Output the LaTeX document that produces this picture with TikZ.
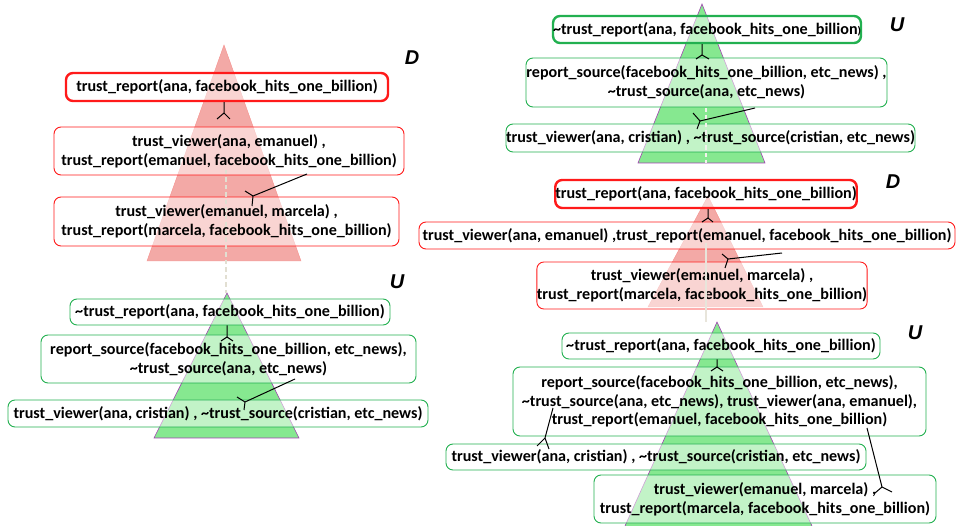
\documentclass[tikz,border=0pt]{standalone}
\usepackage{fontspec}
\setmainfont{Carlito}
\newfontfamily\lblfont{Liberation Sans}
\definecolor{trired}{HTML}{F3A9A6}
\definecolor{trigreen}{HTML}{86E890}
\definecolor{triedge}{HTML}{A040B0}
\definecolor{boxred}{HTML}{FF1A1A}
\definecolor{boxgreen}{HTML}{22B050}
\definecolor{dotcol}{HTML}{E2DFD2}
\newcommand{\tl}{\textasciitilde}
\tikzset{
 box/.style={rounded corners=7pt, fill=white, fill opacity=0.5, text opacity=1, align=center,
   inner sep=0pt, font=\bfseries\fontsize{16.1}{18.6}\selectfont, line width=0.9pt},
 rbox/.style={box, draw=boxred},
 rboxT/.style={rbox, line width=2.4pt},
 gbox/.style={box, draw=boxgreen},
 gboxT/.style={gbox, line width=2.4pt},
 link/.style={draw=black, line width=1pt},
 lbl/.style={font=\lblfont\bfseries\itshape\fontsize{20}{20}\selectfont},
 redtri/.style={fill=trired, draw=trired!85!red, line width=0.4pt},
 greentri/.style={fill=trigreen, draw=triedge, line width=0.6pt},
 dotline/.style={draw=dotcol, line width=2.8pt, dash pattern=on 4.5pt off 3pt},
}
\begin{document}
\begin{tikzpicture}[x=1pt,y=-1pt]
\useasboundingbox (0,0) rectangle (956,526);
% ---------------- triangles
\path[redtri] (224,45) -- (147,261) -- (301,261) -- cycle;
\path[greentri] (227,293) -- (154,438) -- (299,438) -- cycle;
\path[greentri] (702,4) -- (638,163) -- (765,163) -- cycle;
\path[redtri] (708,196) -- (648,307) -- (763,307) -- cycle;
\path[fill=trigreen] (625,526) -- (717,322) -- (812,526) -- cycle;
\draw[triedge, line width=0.6pt] (625,526) -- (717,322) -- (812,526);
% ---------------- left panel boxes
\node[rboxT, minimum width=322pt, minimum height=28pt] (R1) at (227,87)
  {trust\_report(ana, facebook\_hits\_one\_billion)};
\node[rbox, minimum width=350pt, minimum height=48pt] (R2) at (229,151)
  {trust\_viewer(ana, emanuel) ,\\trust\_report(emanuel, facebook\_hits\_one\_billion)};
\node[rbox, minimum width=345pt, minimum height=49pt] (R3) at (226.5,221.5)
  {trust\_viewer(emanuel, marcela) ,\\trust\_report(marcela, facebook\_hits\_one\_billion)};
\node[gbox, minimum width=320pt, minimum height=26pt] (G1) at (230,312)
  {\tl trust\_report(ana, facebook\_hits\_one\_billion)};
\node[gbox, minimum width=375pt, minimum height=48pt] (G2) at (228.5,359)
  {report\_source(facebook\_hits\_one\_billion, etc\_news),\\\tl trust\_source(ana, etc\_news)};
\node[gbox, minimum width=420pt, minimum height=27pt] (G3) at (218,413.5)
  {trust\_viewer(ana, cristian) , \tl trust\_source(cristian, etc\_news)};
% ---------------- right panel boxes
\node[gboxT, minimum width=306pt, minimum height=27pt] (RG1) at (707,29.5)
  {\tl trust\_report(ana, facebook\_hits\_one\_billion{\fontsize{11}{11}\selectfont )}};
\node[gbox, minimum width=361pt, minimum height=49pt] (RG2) at (706.5,82.5)
  {report\_source(facebook\_hits\_one\_billion, etc\_news) ,\\\tl trust\_source(ana, etc\_news)};
\node[gbox, minimum width=403pt, minimum height=28pt] (RG3) at (710.5,138)
  {trust\_viewer(ana, cristian) , \tl trust\_source(cristian, etc\_news)};
\node[rboxT, minimum width=298pt, minimum height=28pt] (RR1) at (706,194)
  {trust\_report(ana, facebook\_hits\_one\_billion)};
\node[rbox, minimum width=536pt, minimum height=27pt] (RR2) at (687,235.5)
  {trust\_viewer(ana, emanuel) ,trust\_report(emanuel, facebook\_hits\_one\_billion)};
\node[rbox, minimum width=330pt, minimum height=47pt] (RR3) at (702,285.5)
  {trust\_viewer(emanuel, marcela) ,\\trust\_report(marcela, facebook\_hits\_one\_billion)};
\node[gbox, minimum width=318pt, minimum height=26pt] (BG1) at (721,346)
  {\tl trust\_report(ana, facebook\_hits\_one\_billion)};
\node[gbox, minimum width=413pt, minimum height=69pt] (BG2) at (719.5,401.5)
  {report\_source(facebook\_hits\_one\_billion, etc\_news),\\\tl trust\_source(ana, etc\_news), trust\_viewer(ana, emanuel),\\trust\_report(emanuel, facebook\_hits\_one\_billion)};
\node[gbox, minimum width=420pt, minimum height=26pt] (BG3) at (656,457)
  {trust\_viewer(ana, cristian) , \tl trust\_source(cristian, etc\_news)};
\node[gbox, minimum width=342pt, minimum height=48pt] (BG4) at (765,499)
  {trust\_viewer(emanuel, marcela) ,\\trust\_report(marcela, facebook\_hits\_one\_billion)};
% ---------------- dotted centre lines
\coordinate (dl1) at (226,170);
\coordinate (dl2) at (226,293);
\draw[dotline] (dl1) -- (dl2);
\coordinate (dr1) at (706,108);
\coordinate (dr2) at (706,163);
\coordinate (dr3) at (706,243);
\coordinate (dr4) at (706,322);
\draw[dotline, draw=white!60!dotcol] (dr1) -- (dr2);
\draw[draw=dotcol!80!white, line width=2.8pt] (dr3) -- (dr4);
% ---------------- connectors, left
\coordinate (j1) at (224,113);
\draw[link] (j1 |- R1.south) -- (j1) -- (217,119) (j1) -- (230,119);
\coordinate (a2) at (307,174);
\coordinate (j2) at (253,196);
\draw[link] (a2) -- (j2) -- (245,191) (j2) -- (252,206);
\coordinate (j3) at (227,337);
\draw[link] (j3 |- G1.south) -- (j3) -- (221,341) (j3) -- (233,341);
\coordinate (a4) at (295,379);
\coordinate (j4) at (245,402);
\draw[link] (a4) -- (j4) -- (237,397) (j4) -- (244,410);
% ---------------- connectors, right
\coordinate (j5) at (702,55);
\draw[link] (j5 |- RG1.south) -- (j5) -- (696,59) (j5) -- (709,59);
\coordinate (a6) at (755,108);
\coordinate (j6) at (700,121);
\draw[link] (a6) -- (j6) -- (693,113) (j6) -- (697,129);
\coordinate (j7) at (708,218);
\draw[link] (j7 |- RR1.south) -- (j7) -- (702,222) (j7) -- (713,222);
\coordinate (a8) at (782,253);
\coordinate (j8) at (728,259);
\draw[link] (a8) -- (j8) -- (722,254) (j8) -- (725,268);
\coordinate (j9) at (717,367);
\draw[link] (j9 |- BG1.south) -- (j9) -- (711,371) (j9) -- (723,371);
\coordinate (a10) at (553,408);
\coordinate (j10) at (545,438);
\draw[link] (a10) -- (j10) -- (537,446) (j10) -- (549,449);
\coordinate (a11) at (867,428);
\coordinate (j11) at (882,487);
\draw[link] (a11) -- (j11) -- (875,493) (j11) -- (892,492);
% ---------------- labels
\node[lbl] (LD) at (412,58) {D};
\node[lbl] (LU) at (397,282) {U};
\node[lbl] (RU) at (897,25) {U};
\node[lbl] (RD) at (893,182) {D};
\node[lbl] (BU) at (915,333) {U};
\end{tikzpicture}
\end{document}
